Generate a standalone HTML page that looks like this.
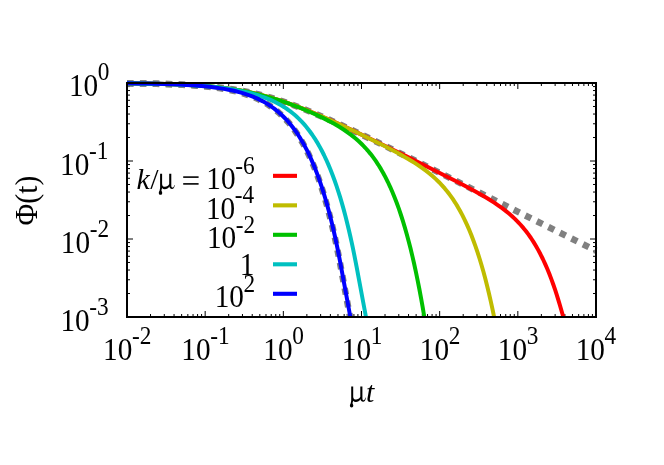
<!DOCTYPE html>
<html><head><meta charset="utf-8"><title>plot</title>
<style>html,body{margin:0;padding:0;background:#fff;}body{width:664px;height:465px;overflow:hidden;position:relative;font-family:"Liberation Serif",serif;}</style>
</head><body>
<svg width="664" height="465" viewBox="0 0 664 465" style="position:absolute;left:0;top:0;will-change:transform">
<rect x="0" y="0" width="664" height="465" fill="#fff"/>
<path d="M127.00,317.0 v-6 M127.00,83.0 v6 M150.53,317.0 v-3 M150.53,83.0 v3 M164.29,317.0 v-3 M164.29,83.0 v3 M174.06,317.0 v-3 M174.06,83.0 v3 M181.64,317.0 v-3 M181.64,83.0 v3 M187.83,317.0 v-3 M187.83,83.0 v3 M193.06,317.0 v-3 M193.06,83.0 v3 M197.59,317.0 v-3 M197.59,83.0 v3 M201.59,317.0 v-3 M201.59,83.0 v3 M205.17,317.0 v-6 M205.17,83.0 v6 M228.70,317.0 v-3 M228.70,83.0 v3 M242.46,317.0 v-3 M242.46,83.0 v3 M252.23,317.0 v-3 M252.23,83.0 v3 M259.80,317.0 v-3 M259.80,83.0 v3 M265.99,317.0 v-3 M265.99,83.0 v3 M271.23,317.0 v-3 M271.23,83.0 v3 M275.76,317.0 v-3 M275.76,83.0 v3 M279.76,317.0 v-3 M279.76,83.0 v3 M283.33,317.0 v-6 M283.33,83.0 v6 M306.86,317.0 v-3 M306.86,83.0 v3 M320.63,317.0 v-3 M320.63,83.0 v3 M330.39,317.0 v-3 M330.39,83.0 v3 M337.97,317.0 v-3 M337.97,83.0 v3 M344.16,317.0 v-3 M344.16,83.0 v3 M349.39,317.0 v-3 M349.39,83.0 v3 M353.92,317.0 v-3 M353.92,83.0 v3 M357.92,317.0 v-3 M357.92,83.0 v3 M361.50,317.0 v-6 M361.50,83.0 v6 M385.03,317.0 v-3 M385.03,83.0 v3 M398.79,317.0 v-3 M398.79,83.0 v3 M408.56,317.0 v-3 M408.56,83.0 v3 M416.14,317.0 v-3 M416.14,83.0 v3 M422.33,317.0 v-3 M422.33,83.0 v3 M427.56,317.0 v-3 M427.56,83.0 v3 M432.09,317.0 v-3 M432.09,83.0 v3 M436.09,317.0 v-3 M436.09,83.0 v3 M439.67,317.0 v-6 M439.67,83.0 v6 M463.20,317.0 v-3 M463.20,83.0 v3 M476.96,317.0 v-3 M476.96,83.0 v3 M486.73,317.0 v-3 M486.73,83.0 v3 M494.30,317.0 v-3 M494.30,83.0 v3 M500.49,317.0 v-3 M500.49,83.0 v3 M505.73,317.0 v-3 M505.73,83.0 v3 M510.26,317.0 v-3 M510.26,83.0 v3 M514.26,317.0 v-3 M514.26,83.0 v3 M517.83,317.0 v-6 M517.83,83.0 v6 M541.36,317.0 v-3 M541.36,83.0 v3 M555.13,317.0 v-3 M555.13,83.0 v3 M564.89,317.0 v-3 M564.89,83.0 v3 M572.47,317.0 v-3 M572.47,83.0 v3 M578.66,317.0 v-3 M578.66,83.0 v3 M583.89,317.0 v-3 M583.89,83.0 v3 M588.42,317.0 v-3 M588.42,83.0 v3 M592.42,317.0 v-3 M592.42,83.0 v3 M596.00,317.0 v-6 M596.00,83.0 v6 M127.0,317.00 h6 M596.0,317.00 h-6 M127.0,293.52 h3 M596.0,293.52 h-3 M127.0,279.78 h3 M596.0,279.78 h-3 M127.0,270.04 h3 M596.0,270.04 h-3 M127.0,262.48 h3 M596.0,262.48 h-3 M127.0,256.30 h3 M596.0,256.30 h-3 M127.0,251.08 h3 M596.0,251.08 h-3 M127.0,246.56 h3 M596.0,246.56 h-3 M127.0,242.57 h3 M596.0,242.57 h-3 M127.0,239.00 h6 M596.0,239.00 h-6 M127.0,215.52 h3 M596.0,215.52 h-3 M127.0,201.78 h3 M596.0,201.78 h-3 M127.0,192.04 h3 M596.0,192.04 h-3 M127.0,184.48 h3 M596.0,184.48 h-3 M127.0,178.30 h3 M596.0,178.30 h-3 M127.0,173.08 h3 M596.0,173.08 h-3 M127.0,168.56 h3 M596.0,168.56 h-3 M127.0,164.57 h3 M596.0,164.57 h-3 M127.0,161.00 h6 M596.0,161.00 h-6 M127.0,137.52 h3 M596.0,137.52 h-3 M127.0,123.78 h3 M596.0,123.78 h-3 M127.0,114.04 h3 M596.0,114.04 h-3 M127.0,106.48 h3 M596.0,106.48 h-3 M127.0,100.30 h3 M596.0,100.30 h-3 M127.0,95.08 h3 M596.0,95.08 h-3 M127.0,90.56 h3 M596.0,90.56 h-3 M127.0,86.57 h3 M596.0,86.57 h-3 M127.0,83.00 h6 M596.0,83.00 h-6" stroke="#000" stroke-width="1" fill="none"/>
<g fill="none" stroke-linejoin="round">
<path d="M127.00,83.34 L137.75,83.46 L147.52,83.62 L156.51,83.81 L164.72,84.03 L172.34,84.29 L179.37,84.58 L186.02,84.93 L192.27,85.32 L198.13,85.75 L203.80,86.25 L209.07,86.80 L214.16,87.41 L219.04,88.10 L223.73,88.85 L228.03,89.64 L232.33,90.54 L236.63,91.56 L240.73,92.66 L244.64,93.84 L248.35,95.09 L251.87,96.41 L255.39,97.87 L258.71,99.40 L262.03,101.09 L265.16,102.83 L268.29,104.75 L271.22,106.71 L274.15,108.85 L276.88,111.01 L279.62,113.37 L282.36,115.91 L284.90,118.47 L286.26,119.93 L287.63,121.45 L290.17,124.44 L292.71,127.66 L295.25,131.13 L297.79,134.87 L300.14,138.57 L302.48,142.55 L304.63,146.44 L306.78,150.59 L308.93,155.01 L311.08,159.71 L313.23,164.73 L315.38,170.07 L317.34,175.23 L319.29,180.70 L321.24,186.49 L323.00,191.99 L324.76,197.78 L326.52,203.89 L328.28,210.31 L330.04,217.08 L331.60,223.40 L333.16,230.02 L334.73,236.95 L336.10,243.28 L337.27,248.91 L339.61,260.78 L350.03,317.00" stroke="#808080" stroke-width="6.5" stroke-dasharray="6.5 6.4" stroke-dashoffset="0"/>
<path d="M127.00,83.34 L144.20,83.55 L159.05,83.85 L172.14,84.23 L184.06,84.73 L189.73,85.02 L195.00,85.34 L200.09,85.69 L204.97,86.07 L209.86,86.50 L214.55,86.96 L219.04,87.46 L223.54,88.00 L228.03,88.60 L232.33,89.24 L236.63,89.93 L240.93,90.68 L245.23,91.49 L249.33,92.33 L253.43,93.23 L257.54,94.18 L261.64,95.21 L265.75,96.29 L269.85,97.43 L274.15,98.69 L278.25,99.96 L282.55,101.35 L286.85,102.80 L291.15,104.30 L295.06,105.72 L299.16,107.26 L307.37,110.46 L315.97,113.99 L325.15,117.91 L334.92,122.24 L345.67,127.14 L357.40,132.62 L370.29,138.77 L383.19,145.00 L397.85,152.16 L414.85,160.53 L435.17,170.59 L488.33,197.04 L596.00,250.74" stroke="#808080" stroke-width="6.5" stroke-dasharray="6.5 6.4" stroke-dashoffset="0"/>
<path d="M127.00,83.34 L142.44,83.53 L155.92,83.78 L167.84,84.09 L178.79,84.49 L188.75,84.97 L198.13,85.55 L206.93,86.24 L211.22,86.63 L215.33,87.05 L219.43,87.50 L223.34,87.98 L227.25,88.50 L231.16,89.06 L235.07,89.67 L238.78,90.29 L242.49,90.97 L246.20,91.69 L249.92,92.45 L253.63,93.27 L257.34,94.14 L260.86,95.01 L264.38,95.92 L268.09,96.93 L271.80,98.00 L275.52,99.11 L279.23,100.27 L282.94,101.48 L286.66,102.73 L290.37,104.03 L294.28,105.44 L298.19,106.89 L306.20,109.99 L314.60,113.41 L323.59,117.23 L333.16,121.45 L343.33,126.06 L356.22,132.07 L370.68,138.96 L387.30,147.01 L406.45,156.40 L427.36,166.77 L445.14,175.70 L458.62,182.59 L464.29,185.54 L469.37,188.24 L475.43,191.53 L480.70,194.49 L485.59,197.33 L490.08,200.06 L494.19,202.67 L498.10,205.30 L501.81,207.94 L505.33,210.60 L508.65,213.29 L511.78,216.00 L514.90,218.90 L517.83,221.82 L520.57,224.75 L523.31,227.90 L525.85,231.04 L528.39,234.41 L530.93,238.02 L533.47,241.91 L535.81,245.76 L538.16,249.88 L540.50,254.29 L542.85,259.01 L545.00,263.64 L547.15,268.57 L549.30,273.81 L551.25,278.88 L553.20,284.25 L555.16,289.94 L556.92,295.35 L558.68,301.04 L559.85,305.00 L563.31,317.00" stroke="#ff0000" stroke-width="4.0"/>
<path d="M127.00,83.34 L141.46,83.51 L154.16,83.74 L165.50,84.02 L175.85,84.37 L185.43,84.80 L194.42,85.30 L202.82,85.90 L210.83,86.59 L218.45,87.39 L225.88,88.31 L233.11,89.36 L240.15,90.54 L246.99,91.84 L250.50,92.58 L253.83,93.31 L260.47,94.91 L263.79,95.76 L267.31,96.72 L271.02,97.77 L274.74,98.87 L278.45,100.02 L282.16,101.22 L285.87,102.46 L289.78,103.82 L293.69,105.22 L297.79,106.74 L301.90,108.31 L306.00,109.92 L314.80,113.50 L323.98,117.41 L333.75,121.73 L339.61,124.39 L345.87,127.27 L358.57,133.27 L371.27,139.43 L377.33,142.44 L383.00,145.30 L387.88,147.81 L392.57,150.26 L396.87,152.57 L400.97,154.82 L404.69,156.92 L408.20,158.97 L411.53,160.97 L414.65,162.92 L418.76,165.60 L422.67,168.32 L426.18,170.92 L429.70,173.70 L433.02,176.51 L436.15,179.36 L439.08,182.23 L442.01,185.32 L444.75,188.42 L447.48,191.75 L448.85,193.52 L450.22,195.35 L452.76,198.95 L455.30,202.82 L457.65,206.65 L459.99,210.75 L462.34,215.14 L464.68,219.85 L467.03,224.89 L469.17,229.82 L471.32,235.07 L473.47,240.67 L475.43,246.08 L477.58,252.40 L479.53,258.50 L481.49,264.96 L483.44,271.81 L485.39,279.06 L487.15,285.95 L488.91,293.21 L490.67,300.86 L492.43,308.91 L494.11,317.00" stroke="#bfbc00" stroke-width="4.0"/>
<path d="M127.00,83.34 L139.90,83.49 L151.43,83.68 L161.78,83.92 L171.36,84.21 L180.35,84.56 L188.56,84.96 L196.37,85.43 L203.80,85.98 L211.03,86.61 L217.87,87.32 L224.51,88.13 L230.77,89.00 L237.02,90.00 L243.08,91.08 L249.14,92.29 L255.19,93.64 L258.71,94.48 L262.03,95.32 L268.68,97.13 L272.00,98.09 L275.52,99.15 L278.84,100.20 L282.36,101.35 L289.20,103.72 L292.71,105.01 L296.23,106.34 L299.75,107.71 L303.27,109.12 L306.78,110.58 L310.11,112.00 L316.55,114.89 L319.68,116.36 L322.81,117.87 L325.74,119.34 L328.67,120.85 L331.41,122.31 L334.14,123.83 L336.68,125.30 L339.22,126.82 L341.57,128.28 L343.91,129.80 L346.06,131.25 L348.21,132.77 L350.36,134.35 L352.32,135.85 L355.64,138.56 L358.76,141.31 L360.33,142.77 L361.89,144.29 L363.45,145.86 L364.82,147.30 L366.39,149.01 L367.75,150.56 L370.49,153.85 L371.86,155.59 L373.23,157.40 L375.77,160.95 L378.31,164.78 L380.85,168.89 L383.19,172.97 L385.54,177.34 L387.88,182.02 L390.23,187.04 L392.38,191.95 L394.53,197.18 L396.68,202.75 L398.82,208.69 L400.97,215.01 L402.93,221.12 L404.88,227.59 L406.84,234.44 L408.79,241.70 L410.55,248.60 L412.31,255.87 L414.07,263.52 L415.83,271.58 L417.58,280.07 L419.34,289.01 L421.10,298.43 L422.67,307.22 L424.32,317.00" stroke="#00c000" stroke-width="4.0"/>
<path d="M127.00,83.34 L138.33,83.47 L148.69,83.63 L158.07,83.83 L166.87,84.06 L175.07,84.34 L182.69,84.67 L189.73,85.03 L196.57,85.45 L203.02,85.93 L209.27,86.47 L215.33,87.09 L221.00,87.75 L226.47,88.49 L231.74,89.30 L236.82,90.18 L241.51,91.10 L246.40,92.17 L250.89,93.27 L255.19,94.46 L259.49,95.77 L263.40,97.10 L267.31,98.58 L271.02,100.13 L274.54,101.75 L277.86,103.44 L281.18,105.29 L284.31,107.19 L287.44,109.28 L290.37,111.42 L293.30,113.74 L294.86,115.07 L296.23,116.28 L298.97,118.85 L301.70,121.64 L303.07,123.12 L304.44,124.65 L305.81,126.26 L307.17,127.93 L309.71,131.21 L312.25,134.75 L314.80,138.56 L317.14,142.35 L319.49,146.40 L321.83,150.74 L323.98,155.00 L326.13,159.53 L328.28,164.36 L330.43,169.50 L332.38,174.47 L334.53,180.27 L336.49,185.88 L338.44,191.81 L340.20,197.46 L341.96,203.40 L343.72,209.66 L345.48,216.26 L347.04,222.41 L348.80,229.68 L350.36,236.47 L351.73,242.67 L352.90,248.19 L354.27,254.87 L355.44,260.81 L356.61,266.97 L365.96,317.00" stroke="#00c0c0" stroke-width="4.0"/>
<path d="M127.00,83.34 L137.94,83.46 L147.71,83.62 L156.70,83.81 L164.91,84.03 L172.53,84.28 L179.76,84.59 L186.41,84.93 L192.66,85.32 L198.52,85.76 L204.19,86.26 L209.47,86.81 L214.55,87.42 L219.43,88.11 L224.12,88.86 L228.42,89.66 L232.72,90.55 L237.02,91.57 L241.12,92.68 L245.03,93.86 L248.74,95.11 L252.26,96.43 L255.78,97.90 L259.10,99.43 L262.42,101.12 L265.55,102.87 L268.68,104.78 L271.61,106.75 L274.54,108.89 L277.28,111.06 L280.01,113.42 L282.75,115.97 L285.29,118.53 L286.66,119.99 L288.02,121.51 L290.56,124.51 L293.10,127.73 L295.64,131.21 L298.19,134.95 L300.53,138.67 L302.88,142.65 L305.02,146.55 L307.17,150.70 L309.32,155.13 L311.47,159.84 L313.62,164.87 L315.77,170.22 L317.73,175.39 L319.68,180.86 L321.63,186.66 L323.39,192.17 L325.15,197.98 L326.91,204.09 L328.67,210.53 L330.43,217.31 L331.99,223.64 L333.56,230.27 L335.12,237.21 L336.49,243.55 L337.66,249.19 L340.00,261.08 L350.35,317.00" stroke="#0000ff" stroke-width="4.0"/>
</g>
<rect x="127" y="83" width="469" height="234" fill="none" stroke="#000" stroke-width="2"/>
<path d="M273,175.85 H297" stroke="#ff0000" stroke-width="4.1" fill="none"/>
<path d="M273,205.35 H297" stroke="#bfbc00" stroke-width="4.1" fill="none"/>
<path d="M273,234.8 H297" stroke="#00c000" stroke-width="4.1" fill="none"/>
<path d="M273,264.3 H297" stroke="#00c0c0" stroke-width="4.1" fill="none"/>
<path d="M273,293.8 H297" stroke="#0000ff" stroke-width="4.1" fill="none"/>
<g font-family="Liberation Serif, serif" fill="#000"><text transform="translate(68.94,95.95) scale(1.0,1.057)" font-size="29.3">10</text>
<text transform="translate(97.84,80.25) scale(1.0,1.04)" font-size="23.3">0</text>
<text transform="translate(60.09,174.55) scale(1.0,1.057)" font-size="29.3">10</text>
<text transform="translate(88.99,158.85) scale(1.0,1.04)" font-size="23.3">-1</text>
<text transform="translate(60.78,252.55) scale(1.0,1.057)" font-size="29.3">10</text>
<text transform="translate(89.68,236.85) scale(1.0,1.04)" font-size="23.3">-2</text>
<text transform="translate(60.40,330.55) scale(1.0,1.057)" font-size="29.3">10</text>
<text transform="translate(89.30,314.85) scale(1.0,1.04)" font-size="23.3">-3</text>
<text transform="translate(103.10,360.10) scale(1.0,1.057)" font-size="29.3">10</text>
<text transform="translate(132.00,344.40) scale(1.0,1.04)" font-size="23.3">-2</text>
<text transform="translate(181.32,360.10) scale(1.0,1.057)" font-size="29.3">10</text>
<text transform="translate(210.22,344.40) scale(1.0,1.04)" font-size="23.3">-1</text>
<text transform="translate(263.31,360.10) scale(1.0,1.057)" font-size="29.3">10</text>
<text transform="translate(292.21,344.40) scale(1.0,1.04)" font-size="23.3">0</text>
<text transform="translate(341.74,360.10) scale(1.0,1.057)" font-size="29.3">10</text>
<text transform="translate(370.64,344.40) scale(1.0,1.04)" font-size="23.3">1</text>
<text transform="translate(419.85,360.10) scale(1.0,1.057)" font-size="29.3">10</text>
<text transform="translate(448.75,344.40) scale(1.0,1.04)" font-size="23.3">2</text>
<text transform="translate(497.83,360.10) scale(1.0,1.057)" font-size="29.3">10</text>
<text transform="translate(526.73,344.40) scale(1.0,1.04)" font-size="23.3">3</text>
<text transform="translate(575.72,360.10) scale(1.0,1.057)" font-size="29.3">10</text>
<text transform="translate(604.62,344.40) scale(1.0,1.04)" font-size="23.3">4</text>
<path transform="translate(349.90,401.40)" d="M1.3,-14.9 L3.3,-14.9 L3.3,-4.7 C3.3,-2.7 4.6,-1.9 6.2,-1.9 C7.9,-1.9 9.6,-2.9 10.4,-4.6 L10.4,-14.9 L12.5,-14.9 L12.5,-3.2 C12.5,-1.8 13.0,-1.2 13.7,-1.2 C14.6,-1.2 15.2,-2.2 15.5,-3.8 L15.9,-3.7 C15.7,-1.2 14.7,0.3 13.2,0.3 C11.8,0.3 10.8,-0.6 10.5,-2.2 C9.5,-0.5 8.0,0.5 6.0,0.5 C4.8,0.5 3.9,0.1 3.3,-0.7 L3.2,-0.2 C3.0,0.6 2.7,1.0 2.6,1.6 C2.6,2.4 3.4,3.0 3.4,4.2 C3.4,5.4 2.7,6.1 1.7,6.1 C0.7,6.1 0,5.4 0,4.2 C0,3.0 0.9,2.4 0.9,1.4 C0.9,0.8 1.3,0.2 1.3,-0.6 Z"/>
<text transform="translate(365.99,401.70) scale(1.0,1.0)" font-size="29.8" font-style="italic">t</text>
<text transform="translate(36.80,225.45) rotate(-90) scale(1.0,1.04)" font-size="29.8">Φ(t)</text>
<text transform="translate(206.28,189.35) scale(1.0,1.057)" font-size="29.3">10</text>
<text transform="translate(235.18,173.65) scale(1.0,1.04)" font-size="23.3">-6</text>
<text transform="translate(205.95,218.85) scale(1.0,1.057)" font-size="29.3">10</text>
<text transform="translate(234.85,203.15) scale(1.0,1.04)" font-size="23.3">-4</text>
<text transform="translate(206.88,248.30) scale(1.0,1.057)" font-size="29.3">10</text>
<text transform="translate(235.78,232.60) scale(1.0,1.04)" font-size="23.3">-2</text>
<text transform="translate(239.81,274.60) scale(1.0,1.057)" font-size="29.3">1</text>
<text transform="translate(214.64,307.30) scale(1.0,1.057)" font-size="29.3">10</text>
<text transform="translate(243.54,291.60) scale(1.0,1.04)" font-size="23.3">2</text>
<text transform="translate(136.44,188.70) scale(1.0,1.0)" font-size="29.8" font-style="italic">k</text>
<text transform="translate(150.20,188.70) scale(1.0,1.0)" font-size="29.8">/</text>
<path transform="translate(158.80,188.70)" d="M1.3,-14.9 L3.3,-14.9 L3.3,-4.7 C3.3,-2.7 4.6,-1.9 6.2,-1.9 C7.9,-1.9 9.6,-2.9 10.4,-4.6 L10.4,-14.9 L12.5,-14.9 L12.5,-3.2 C12.5,-1.8 13.0,-1.2 13.7,-1.2 C14.6,-1.2 15.2,-2.2 15.5,-3.8 L15.9,-3.7 C15.7,-1.2 14.7,0.3 13.2,0.3 C11.8,0.3 10.8,-0.6 10.5,-2.2 C9.5,-0.5 8.0,0.5 6.0,0.5 C4.8,0.5 3.9,0.1 3.3,-0.7 L3.2,-0.2 C3.0,0.6 2.7,1.0 2.6,1.6 C2.6,2.4 3.4,3.0 3.4,4.2 C3.4,5.4 2.7,6.1 1.7,6.1 C0.7,6.1 0,5.4 0,4.2 C0,3.0 0.9,2.4 0.9,1.4 C0.9,0.8 1.3,0.2 1.3,-0.6 Z"/>
<rect x="183.2" y="176.3" width="15.4" height="1.6"/><rect x="183.2" y="183.1" width="15.4" height="1.6"/></g>
</svg>
</body></html>
